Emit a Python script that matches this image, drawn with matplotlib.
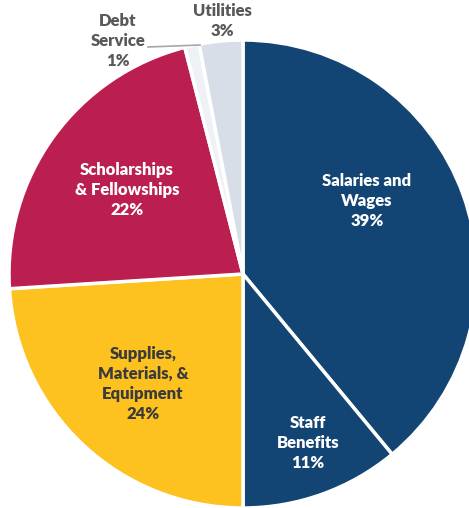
import matplotlib.pyplot as plt

# Expense shares, clockwise from 12 o'clock
categories = ["Salaries and\nWages", "Staff\nBenefits", "Supplies,\nMaterials, &\nEquipment",
              "Scholarships\n& Fellowships", "Debt\nService", "Utilities"]
shares = [39, 11, 24, 22, 1, 3]

colors = ["#134574", "#134574", "#FDC220", "#BA1F50", "#EEF2F7", "#D8DEE7"]
text_colors = ["white", "white", "#3B3B3B", "white", "#595959", "#595959"]
# label centres in pixel space (x, y from top)
label_pos = [(367, 201), (308, 443), (143, 384), (127, 190), (118, 41), (222, 21)]

W, H = 469, 508
fig = plt.figure(figsize=(W / 100, H / 100), dpi=100)
ax = fig.add_axes([0, 0, 1, 1])

ax.pie(shares, colors=colors, startangle=90, counterclock=False,
       center=(243, H - 274), radius=234, frame=True,
       wedgeprops=dict(edgecolor="white", linewidth=2.5))
ax.set_xlim(0, W)
ax.set_ylim(0, H)
ax.set_aspect("equal")
ax.axis("off")

for name, val, (x, y), c in zip(categories, shares, label_pos, text_colors):
    ax.text(x, H - y, f"{name}\n{val}%", ha="center", va="center", color=c,
            fontsize=12, fontweight="heavy", family="Lato", linespacing=1.3)

# leader line for the thin debt service slice
ax.plot([148, 200], [H - 47, H - 45], color="#A6A6A6", lw=1.2)

fig.savefig("out.png", dpi=100)
